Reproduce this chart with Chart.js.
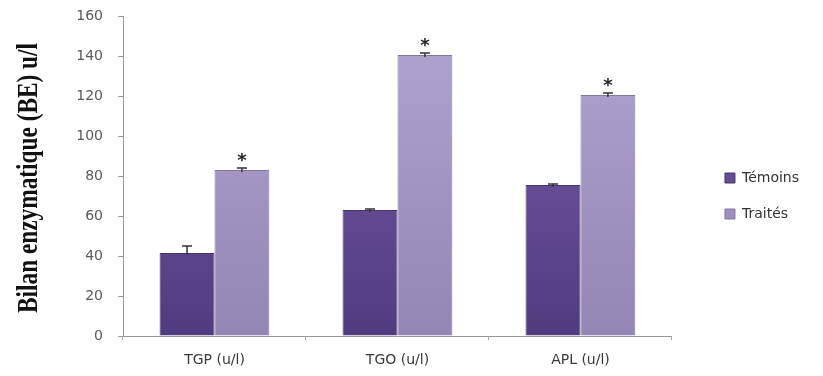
<!DOCTYPE html>
<html>
<head>
<meta charset="utf-8">
<script src="https://cdn.jsdelivr.net/npm/chart.js@4"></script>
<style>
  html, body { margin: 0; padding: 0; background: #fff; }
  #wrap { width: 823px; height: 376px; position: relative; }
</style>
</head>
<body>
<div id="wrap"><canvas id="chart"></canvas></div>
<script>
// Data
const categories = ['TGP (u/l)', 'TGO (u/l)', 'APL (u/l)'];
const temoins = [41.5, 63, 75.5];
const traites = [83, 140.5, 120.5];
const errTemoins = [3.5, 0.5, 0.5];
const errTraites = [1, 1, 1];
const starsTraites = [true, true, true];
const yTitle = 'Bilan enzymatique (BE) u/l';

function gradient(chart, bottomColor, topColor) {
    const area = chart.chartArea;
    if (!area) return bottomColor;
    const g = chart.ctx.createLinearGradient(0, area.bottom, 0, area.top);
    g.addColorStop(0, bottomColor);
    g.addColorStop(1, topColor);
    return g;
}

// error bars (upper half only) and significance stars
const errorBars = {
    id: 'errorBars',
    afterDatasetsDraw(chart) {
        const ctx = chart.ctx;
        const y = chart.scales.y;
        const sets = [
            { values: temoins, errs: errTemoins, stars: null },
            { values: traites, errs: errTraites, stars: starsTraites }
        ];
        ctx.save();
        sets.forEach((s, di) => {
            const meta = chart.getDatasetMeta(di);
            meta.data.forEach((bar, i) => {
                const top = y.getPixelForValue(s.values[i] + s.errs[i]);
                const base = y.getPixelForValue(s.values[i]);
                ctx.strokeStyle = '#333';
                ctx.lineWidth = 1.5;
                ctx.beginPath();
                ctx.moveTo(bar.x, base + 2);
                ctx.lineTo(bar.x, top);
                ctx.moveTo(bar.x - 5, top);
                ctx.lineTo(bar.x + 5, top);
                ctx.stroke();
                if (s.stars && s.stars[i]) {
                    ctx.fillStyle = '#222';
                    ctx.font = 'bold 18px "DejaVu Sans"';
                    ctx.textAlign = 'center';
                    ctx.textBaseline = 'middle';
                    ctx.fillText('*', bar.x, top - 7);
                }
            });
        });
        ctx.restore();
    }
};

// condensed bold serif title for the y axis
const yTitlePlugin = {
    id: 'yTitlePlugin',
    afterDraw(chart) {
        const ctx = chart.ctx;
        ctx.save();
        ctx.translate(37, 178);
        ctx.rotate(-Math.PI / 2);
        ctx.font = 'bold 29px "Liberation Serif"';
        const w = ctx.measureText(yTitle).width;
        ctx.scale(270 / w, 1);
        ctx.fillStyle = '#111';
        ctx.textAlign = 'center';
        ctx.textBaseline = 'alphabetic';
        ctx.fillText(yTitle, 0, 0);
        ctx.restore();
    }
};

new Chart(document.getElementById('chart'), {
    type: 'bar',
    data: {
        labels: categories,
        datasets: [
            {
                label: 'Témoins',
                data: temoins,
                backgroundColor: c => gradient(c.chart, '#513b7f', '#7c5eaf'),
                borderColor: '#47346f',
                borderWidth: 1,
                categoryPercentage: 0.6,
                barPercentage: 1
            },
            {
                label: 'Traités',
                data: traites,
                backgroundColor: c => gradient(c.chart, '#9486b4', '#b0a4d1'),
                borderColor: '#85779f',
                borderWidth: 1,
                categoryPercentage: 0.6,
                barPercentage: 1
            }
        ]
    },
    options: {
        responsive: true,
        maintainAspectRatio: false,
        animation: false,
        layout: { padding: { top: 16, right: 14, bottom: 0, left: 0 } },
        plugins: {
            legend: {
                position: 'right',
                align: 'center',
                labels: {
                    boxWidth: 10,
                    boxHeight: 10,
                    padding: 22,
                    color: '#333',
                    font: { family: 'DejaVu Sans', size: 14 }
                }
            },
            tooltip: { enabled: false }
        },
        scales: {
            x: {
                grid: { drawOnChartArea: false, tickLength: 4, color: '#aaa' },
                border: { color: '#999' },
                ticks: { color: '#3a3a3a', padding: 12, font: { family: 'DejaVu Sans', size: 14 } },
                afterFit(s) { s.height = 40; s.paddingLeft = 0; s.paddingRight = 0; }
            },
            y: {
                min: 0,
                max: 160,
                ticks: { stepSize: 20, color: '#595959', padding: 15, font: { family: 'DejaVu Sans', size: 14 } },
                grid: { drawOnChartArea: false, tickLength: 5, color: '#999' },
                border: { color: '#999' },
                afterFit(s) { s.width = 123; s.paddingTop = 0; s.paddingBottom = 0; }
            },
            gap: {
                type: 'linear',
                position: 'right',
                display: true,
                grid: { display: false },
                border: { display: false },
                ticks: { display: false },
                afterFit(s) { s.width = 31; s.paddingTop = 0; s.paddingBottom = 0; }
            }
        }
    },
    plugins: [errorBars, yTitlePlugin]
});
</script>
</body>
</html>
